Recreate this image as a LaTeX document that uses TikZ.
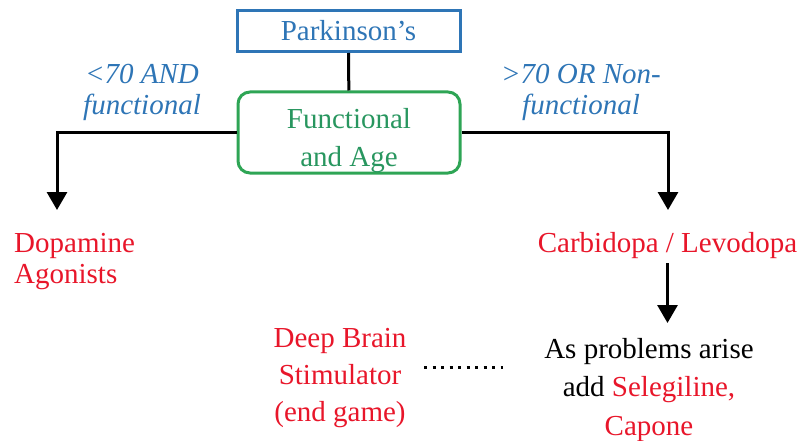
\documentclass[tikz,border=0pt]{standalone}
\usepackage{fontspec}
\setmainfont{Liberation Serif}
\usetikzlibrary{arrows.meta}
\definecolor{pkblue}{RGB}{46,117,182}
\definecolor{fagreen}{RGB}{46,165,85}
\definecolor{fatext}{RGB}{40,150,95}
\definecolor{drred}{RGB}{232,22,42}
\begin{document}
\begin{tikzpicture}[x=1pt,y=-1pt,
  txt/.style={font=\fontsize{29}{31}\selectfont, inner sep=0pt, align=center},
  conn/.style={line width=3pt},
  arr/.style={conn, -{Triangle[width=20pt,length=18pt]}},
  dots/.style={line width=3pt, dash pattern=on 3pt off 5.5pt}
 ]
\useasboundingbox (0,0) rectangle (803,441);
% boxes
\node[txt, draw=pkblue, text=pkblue, line width=3pt, minimum width=223pt, minimum height=41pt] (pk) at (348.5,31) {Parkinson’s};
\node[draw=fagreen, line width=3pt, rounded corners=12pt, minimum width=222pt, minimum height=81pt, inner sep=0pt] (fa) at (349,132.5) {};
\node[txt, text=fatext, font=\fontsize{29}{39}\selectfont, anchor=base] (fat) at (349,167) {Functional\\and Age};
% labels
\node[txt, text=pkblue, font=\fontsize{29}{32}\selectfont\itshape, anchor=base] (l1) at (142,115) {<70 AND\\functional};
\node[txt, text=pkblue, font=\fontsize{29}{32}\selectfont\itshape, anchor=base] (l2) at (581,115) {>70 OR Non-\\functional};
% treatments
\node[txt, text=drred, align=left, anchor=base west] (dopa) at (14,283) {Dopamine\\Agonists};
\node[txt, text=drred, inner sep=5pt, anchor=base] (carb) at (667.5,252) {Carbidopa / Levodopa};
\node[txt, text=drred, font=\fontsize{29}{37.3}\selectfont, anchor=base] (dbs) at (340,421.7) {Deep Brain\\Stimulator\\(end game)};
\node[txt, font=\fontsize{29}{38.5}\selectfont, anchor=base] (asp) at (649,435) {As problems arise\\add \textcolor{drred}{Selegiline,}\\\textcolor{drred}{Capone}};
% connectors
\coordinate (lt) at (57,210);
\coordinate (rt) at (668,210);
\coordinate (ct) at (carb.south |- 0,323);
\coordinate (d1) at (424,367);
\coordinate (d2) at (503,367);
\draw[conn] (pk) -- (fa);
\draw[arr] (fa.west) -| (lt);
\draw[arr] (fa.east) -| (rt);
\draw[arr] (carb.south) -- (ct);
\draw[dots] (d1) -- (d2);
\end{tikzpicture}
\end{document}
